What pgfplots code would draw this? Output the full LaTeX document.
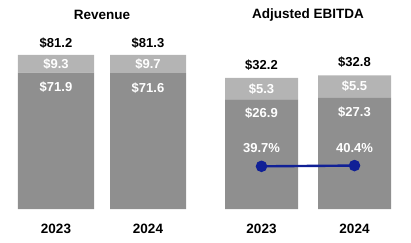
\documentclass[border=0pt]{standalone}
\usepackage{pgfplots}
\pgfplotsset{compat=1.18}
\usepackage{fontspec}
\setmainfont{Liberation Sans}

\definecolor{baseGray}{RGB}{143,143,143}
\definecolor{topGray}{RGB}{180,180,180}
\definecolor{marginBlue}{RGB}{16,32,150}

\newcommand{\lbl}{\fontsize{13}{15}\selectfont\bfseries}
\newcommand{\tot}{\fontsize{13}{15}\selectfont\bfseries}
\newcommand{\ttl}{\fontsize{13.5}{16}\selectfont\bfseries}

\pgfplotsset{
  panel/.style={
    anchor=south west, scale only axis, height=180pt,
    axis lines=none, ticks=none, ymin=0, clip=false,
    ybar stacked,
  },
}

\begin{document}
\begin{tikzpicture}
\path[use as bounding box] (0,0) rectangle (411pt,242pt);

% Revenue ($M)
\begin{axis}[panel, at={(0pt,33pt)}, width=205pt,
  xmin=-0.6087, xmax=1.6196, ymax=94.9, bar width=76pt]
  \addplot[fill=baseGray, draw=none] coordinates {(0,71.9) (1,71.6)};
  \addplot[fill=topGray, draw=none] coordinates {(0,9.3) (1,9.7)};
  \coordinate (rA) at (axis cs:0,76.55);
  \coordinate (rB) at (axis cs:1,76.45);
  \coordinate (rC) at (axis cs:0,71.9);
  \coordinate (rD) at (axis cs:1,71.6);
  \node[font=\tot, yshift=12pt] at (axis cs:0,81.2) {\$81.2};
  \node[font=\tot, yshift=12pt] at (axis cs:1,81.3) {\$81.3};
  \node[font=\ttl, yshift=-20pt] at (axis cs:0,0) {2023};
  \node[font=\ttl, yshift=-20pt] at (axis cs:1,0) {2024};
  \node[font=\ttl, yshift=194pt] at (axis cs:0.5,0) {Revenue};
\end{axis}
\node[font=\lbl, white] at (rA) {\$9.3};
\node[font=\lbl, white] at (rB) {\$9.7};
\node[font=\lbl, white, yshift=-15pt] at (rC) {\$71.9};
\node[font=\lbl, white, yshift=-15pt] at (rD) {\$71.6};

% Adjusted EBITDA ($M)
\begin{axis}[panel, at={(205pt,33pt)}, width=206pt,
  xmin=-0.6075, xmax=1.6075, ymax=44.2, bar width=73pt]
  \addplot[fill=baseGray, draw=none] coordinates {(0,26.9) (1,27.3)};
  \addplot[fill=topGray, draw=none] coordinates {(0,5.3) (1,5.5)};
  \coordinate (eA) at (axis cs:0,29.55);
  \coordinate (eB) at (axis cs:1,30.05);
  \coordinate (eC) at (axis cs:0,26.9);
  \coordinate (eD) at (axis cs:1,27.3);
  \node[font=\tot, yshift=13pt] at (axis cs:0,32.2) {\$32.2};
  \node[font=\tot, yshift=13pt] at (axis cs:1,32.8) {\$32.8};
  \node[font=\ttl, yshift=-20pt] at (axis cs:0,0) {2023};
  \node[font=\ttl, yshift=-20pt] at (axis cs:1,0) {2024};
  \node[font=\ttl, yshift=194pt] at (axis cs:0.5,0) {Adjusted EBITDA};
\end{axis}
\node[font=\lbl, white] at (eA) {\$5.3};
\node[font=\lbl, white] at (eB) {\$5.5};
\node[font=\lbl, white, yshift=-14pt] at (eC) {\$26.9};
\node[font=\lbl, white, yshift=-14pt] at (eD) {\$27.3};

% Adjusted EBITDA margin (%)
\begin{axis}[anchor=south west, at={(205pt,33pt)}, scale only axis,
  width=206pt, height=180pt, axis lines=none, ticks=none, clip=false,
  xmin=-0.6075, xmax=1.6075, ymin=0, ymax=167.4,
  /pgf/number format/assume math mode=true]
  \addplot[marginBlue, line width=2.4pt, mark=*, mark size=4.5pt,
    nodes near coords={\pgfmathprintnumber[fixed,precision=1,fixed zerofill]{\pgfplotspointmeta}\%},
    nodes near coords style={font=\lbl, white, anchor=center, yshift=18pt}]
    coordinates {(0,39.7) (1,40.4)};
\end{axis}
\end{tikzpicture}
\end{document}
